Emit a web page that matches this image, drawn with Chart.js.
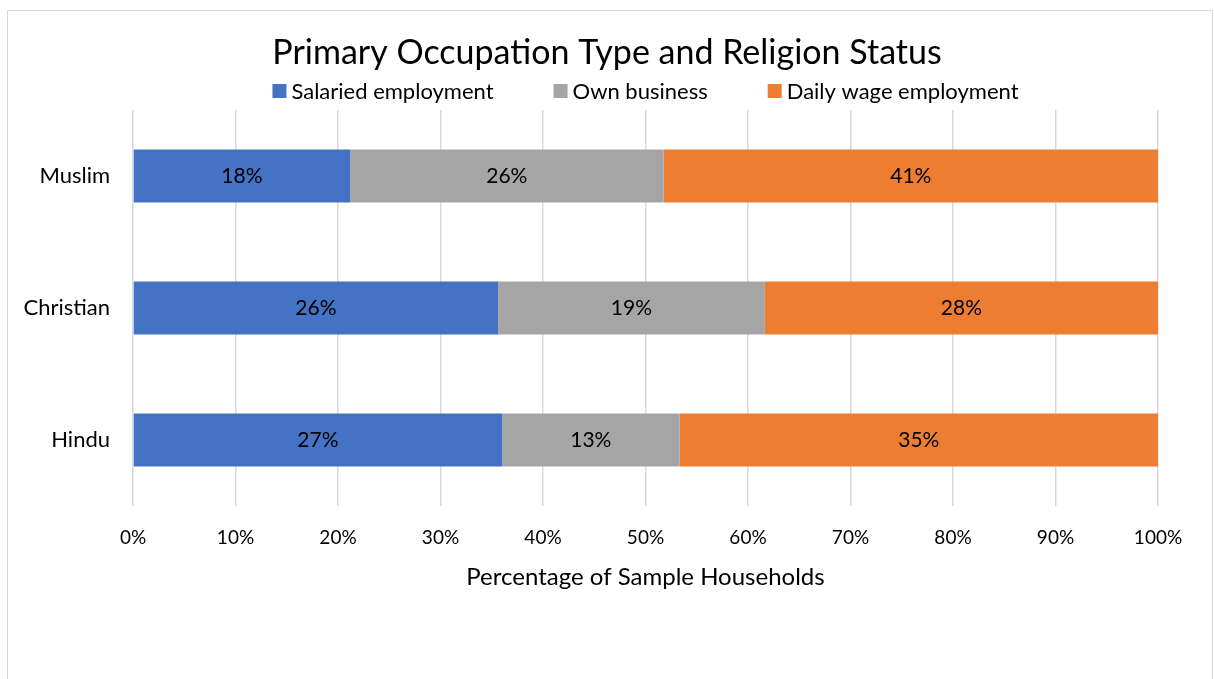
<!DOCTYPE html>
<html>
<head>
<meta charset="utf-8">
<script src="https://cdn.jsdelivr.net/npm/chart.js@4"></script>
<style>
  body { margin: 0; background: #fff; }
  #wrap { position: relative; width: 1214px; height: 679px; overflow: hidden; }
  #frame { position: absolute; left: 7px; top: 10px; width: 1206px; height: 700px; border: 1px solid #d9d9d9; box-sizing: border-box; }
  canvas { position: absolute; left: 0; top: 0; }
</style>
</head>
<body>
<div id="wrap">
  <div id="frame"></div>
  <canvas id="chart" width="1214" height="679"></canvas>
</div>
<script>
// religions, top to bottom
const categories = ['Muslim', 'Christian', 'Hindu'];
// share of households per occupation type (%)
const salaried = [18, 26, 27];
const ownBusiness = [26, 19, 13];
const dailyWage = [41, 28, 35];
const xTicks = [0, 10, 20, 30, 40, 50, 60, 70, 80, 90, 100];

const FONT = 'Lato, "Liberation Sans", sans-serif';

// 100% stacked: each row scaled by its own total
const totals = categories.map((_, i) => salaried[i] + ownBusiness[i] + dailyWage[i]);
const share = arr => arr.map((v, i) => v / totals[i] * 100);

const series = [
  { label: 'Salaried employment', raw: salaried, color: '#4472C4' },
  { label: 'Own business', raw: ownBusiness, color: '#A5A5A5' },
  { label: 'Daily wage employment', raw: dailyWage, color: '#ED7D31' }
];

// write the raw percentage in the middle of each segment
const segmentLabels = {
  id: 'segmentLabels',
  afterDatasetsDraw(chart) {
    const ctx = chart.ctx;
    ctx.save();
    ctx.font = '21px ' + FONT;
    ctx.fillStyle = '#000';
    ctx.textAlign = 'center';
    ctx.textBaseline = 'middle';
    chart.data.datasets.forEach((ds, di) => {
      chart.getDatasetMeta(di).data.forEach((bar, i) => {
        ctx.fillText(ds.raw[i] + '%', (bar.x + bar.base) / 2, bar.y);
      });
    });
    ctx.restore();
  }
};

// one-row legend between the title and the plot, wide gaps like office charts
const wideLegend = {
  id: 'wideLegend',
  afterDraw(chart) {
    const ctx = chart.ctx;
    const area = chart.chartArea;
    const box = 14, gapText = 5, gapItem = 60;
    ctx.save();
    ctx.font = '22px ' + FONT;
    ctx.textBaseline = 'middle';
    const widths = chart.data.datasets.map(ds => ctx.measureText(ds.label).width);
    const total = widths.reduce((a, w) => a + box + gapText + w, 0) + gapItem * (widths.length - 1);
    let x = (area.left + area.right) / 2 - total / 2;
    const y = area.top - 19;
    chart.data.datasets.forEach((ds, i) => {
      ctx.fillStyle = ds.backgroundColor;
      ctx.fillRect(x, y - box / 2, box, box);
      ctx.fillStyle = '#000';
      ctx.fillText(ds.label, x + box + gapText, y + 1);
      x += box + gapText + widths[i] + gapItem;
    });
    ctx.restore();
  }
};

new Chart(document.getElementById('chart'), {
  type: 'bar',
  data: {
    labels: categories,
    datasets: series.map(s => ({
      label: s.label,
      raw: s.raw,
      data: share(s.raw),
      backgroundColor: s.color,
      borderWidth: 0,
      categoryPercentage: 1,
      barPercentage: 0.4
    }))
  },
  options: {
    indexAxis: 'y',
    responsive: false,
    animation: false,
    layout: { padding: { top: 10, right: 0, bottom: 0, left: 0 } },
    plugins: {
      tooltip: { enabled: false },
      legend: { display: false },
      title: {
        display: true,
        text: 'Primary Occupation Type and Religion Status',
        color: '#000',
        font: { family: FONT, size: 34, weight: 'normal' },
        padding: { top: 22.6, bottom: 36.6 }
      }
    },
    scales: {
      x: {
        stacked: true,
        min: 0,
        max: 100,
        afterBuildTicks: scale => { scale.ticks = xTicks.map(v => ({ value: v })); },
        afterFit: scale => { scale.height = 173; },
        grid: { color: '#d9d9d9', lineWidth: 1.5, drawTicks: false },
        border: { display: false },
        ticks: {
          color: '#000',
          font: { family: FONT, size: 19 },
          padding: 20,
          callback: v => v + '%'
        },
        title: {
          display: true,
          text: 'Percentage of Sample Households',
          color: '#000',
          font: { family: FONT, size: 24 },
          padding: { top: 10, bottom: 87.6 }
        }
      },
      y: {
        stacked: true,
        afterFit: scale => { scale.width = 133; },
        grid: { display: false, drawTicks: false },
        border: { display: false },
        ticks: {
          color: '#000',
          font: { family: FONT, size: 22 },
          padding: 23
        }
      },
      // empty strip on the right so the plot stops short of the edge
      yRight: {
        type: 'category',
        labels: categories,
        position: 'right',
        afterFit: scale => { scale.width = 56; },
        grid: { display: false, drawTicks: false },
        border: { display: false },
        ticks: { display: false }
      }
    }
  },
  plugins: [segmentLabels, wideLegend]
});
</script>
</body>
</html>
